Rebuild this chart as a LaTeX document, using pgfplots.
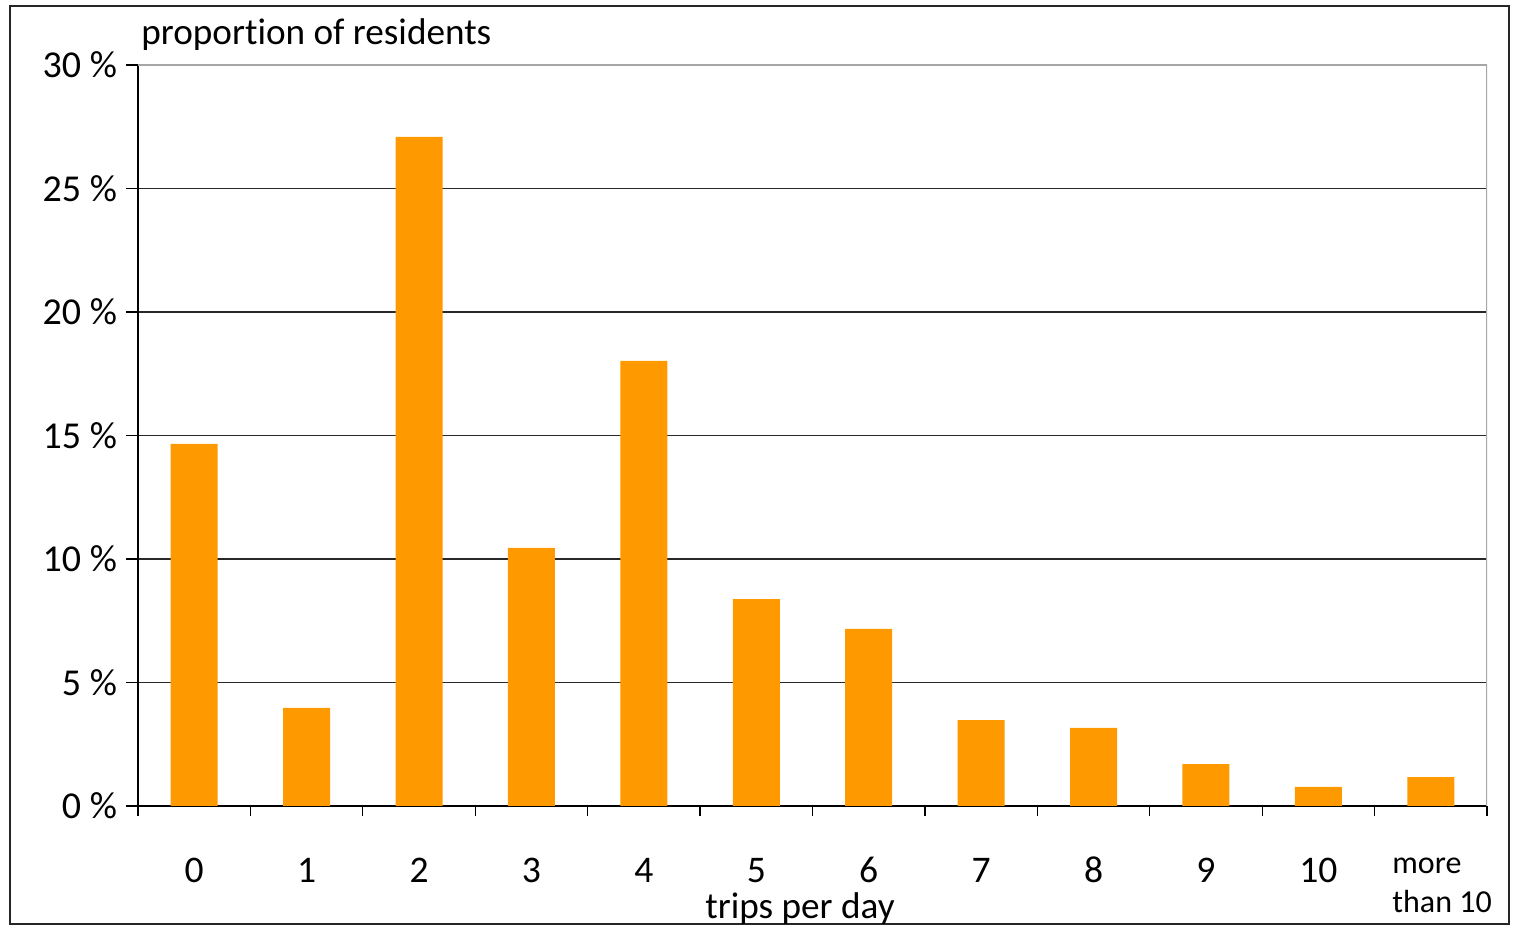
\documentclass[border=0pt]{standalone}
\usepackage{fontspec}
\setmainfont{Carlito}[Ligatures=NoCommon]
\usepackage{pgfplots}
\pgfplotsset{compat=1.18}
\definecolor{barorange}{RGB}{255,153,0}
\definecolor{gridc}{RGB}{40,40,40}
\begin{document}
\begin{tikzpicture}[font=\fontsize{18.6bp}{22bp}\selectfont]
\path[use as bounding box] (0,0) rectangle (757bp,462.5bp);
\draw[line width=1bp, black!85] (5bp,0.5bp) rectangle (754.5bp,459.5bp);
\begin{axis}[
  at={(69bp,59.5bp)}, anchor=south west,
  scale only axis, width=674.5bp, height=370.5bp,
  xmin=-0.5, xmax=11.5, ymin=0, ymax=30,
  axis lines*=left,
  axis line style={line width=0.75bp, black},
  ybar, bar width=23.5bp,
  xtick={0,...,10},
  xticklabels={0,1,2,3,4,5,6,7,8,9,10},
  minor xtick={-0.5,0.5,...,11.5},
  major x tick style={draw=none},
  minor x tick style={line width=0.6bp, black},
  minor tick length=5bp,
  xtick align=outside,
  xticklabel style={anchor=base, inner sep=0pt, yshift=-32bp, font=\fontsize{18.8bp}{22bp}\selectfont},
  ytick={0,5,...,30},
  ytick align=outside, major tick length=6bp,
  y tick style={line width=0.6bp, black},
  yticklabel={\pgfmathprintnumber[assume math mode=true]{\tick}\ \%},
  yticklabel style={font=\fontsize{19bp}{22bp}\selectfont, xshift=-1bp},
  ymajorgrids,
  major grid style={line width=0.55bp, gridc},
]
\addplot[fill=barorange, draw=none] coordinates {
(0,14.66) (1,3.97) (2,27.09) (3,10.45) (4,18.02) (5,8.38) (6,7.17) (7,3.48) (8,3.16) (9,1.70) (10,0.77) (11,1.17)
};
\draw[line width=0.75bp, black!35] (rel axis cs:0,1) -- (rel axis cs:1,1) -- (rel axis cs:1,0);
\end{axis}
\node[anchor=base west, inner sep=0pt] at (70.5bp,440bp) {proportion of residents};
\node[anchor=base, inner sep=0pt] at (400bp,3.5bp) {trips per day};
\node[anchor=base west, align=left, inner sep=0pt, font=\fontsize{16bp}{19.5bp}\selectfont] at (696bp,6.5bp) {more\\than 10};
\end{tikzpicture}
\end{document}
